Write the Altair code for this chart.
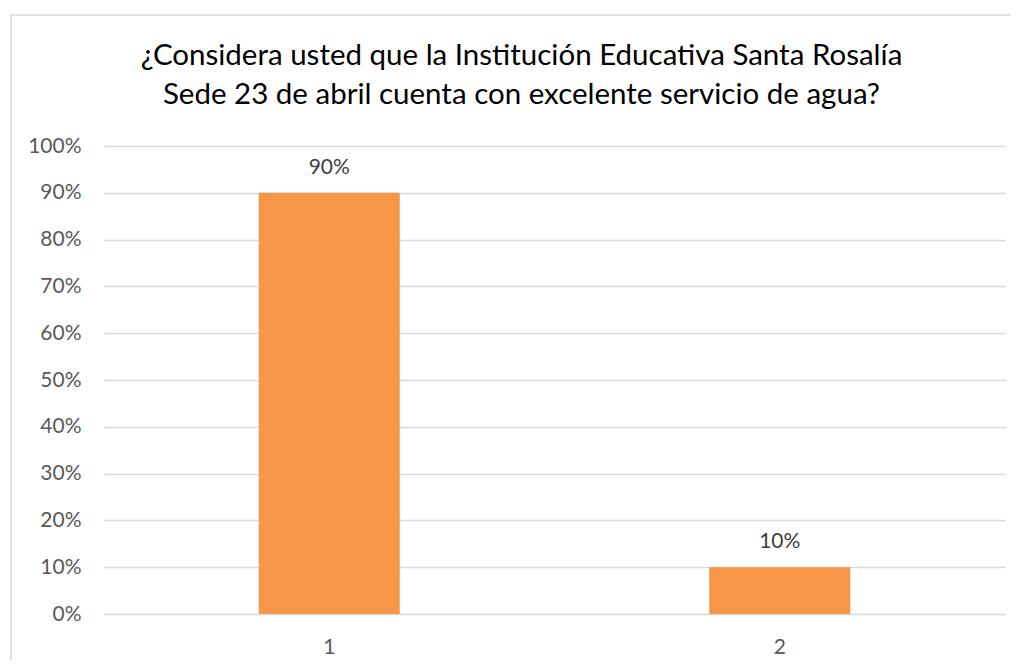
import altair as alt
import pandas as pd

categories = ["1", "2"]
values = [0.90, 0.10]
title_lines = ["¿Considera usted que la Institución Educativa Santa Rosalía",
               "Sede 23 de abril cuenta con excelente servicio de agua?"]

df = pd.DataFrame({"cat": categories, "val": values})

FONT = "Lato"
PW, PH = 901, 468

x_enc = alt.X("cat:N", sort=categories,
              scale=alt.Scale(paddingInner=0.687, paddingOuter=0.3435),
              axis=alt.Axis(title=None, labelAngle=0, ticks=False, domain=False,
                            labelPadding=22, labelFontSize=21, labelFont=FONT,
                            labelColor="#595959", grid=False))
y_enc = alt.Y("val:Q", scale=alt.Scale(domain=[0, 1]),
              axis=alt.Axis(title=None, format=".0%", values=[i / 10 for i in range(11)],
                            ticks=False, domain=False, labelPadding=23,
                            labelFontSize=21, labelFont=FONT, labelColor="#595959",
                            grid=True, gridColor="#d9d9d9", gridWidth=1.5))

border = alt.Chart(pd.DataFrame({"k": [0]})).mark_rect(
    fill=None, stroke="#d9d9d9", strokeWidth=1.5
).encode(x=alt.value(-93), x2=alt.value(960), y=alt.value(-131), y2=alt.value(600))

bars = alt.Chart(df).mark_bar(color="#F79646").encode(x=x_enc, y=y_enc)

labels = alt.Chart(df).mark_text(
    baseline="middle", dy=-25, fontSize=21, font=FONT, color="#404040"
).encode(x=alt.X("cat:N", sort=categories), y="val:Q", text=alt.Text("val:Q", format=".0%"))

chart = alt.layer(border, bars, labels).properties(
    width=PW, height=PH,
    title=alt.TitleParams(title_lines, anchor="middle", frame="group", dx=-33,
                          offset=-119, baseline="alphabetic",
                          fontSize=29.5, font=FONT, fontWeight="normal",
                          color="#000000", lineHeight=39),
    autosize=alt.AutoSizeParams(type="none"),
    padding={"left": 96, "top": 138, "right": 6, "bottom": 46},
    background="white",
).configure_view(stroke=None)

chart.save("out.html", embed_options={"renderer": "svg", "actions": False})
